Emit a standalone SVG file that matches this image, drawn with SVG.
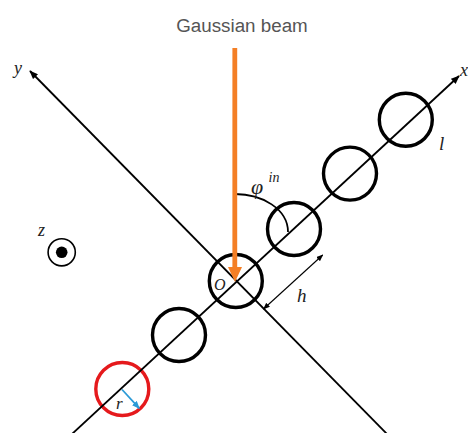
<svg xmlns="http://www.w3.org/2000/svg" width="468" height="433" viewBox="0 0 468 433">
  <style>
    .axis { stroke: #000; stroke-width: 1.8; fill: none; }
    .ring { stroke: #000; stroke-width: 3.4; fill: none; }
    .red { stroke: #e5191c; }
    .lab { font-family: "Liberation Serif", "DejaVu Serif", serif; font-style: italic; fill: #222; }
    .title { font-family: "Liberation Sans", Arial, sans-serif; font-size: 18.8px; fill: #555; }
  </style>
  <defs>
    <marker id="ah" viewBox="0 0 10 8" refX="9" refY="4" markerWidth="9" markerHeight="7" markerUnits="userSpaceOnUse" orient="auto-start-reverse">
      <path d="M0,0 L10,4 L0,8 Z" fill="#000"/>
    </marker>
    <marker id="ahs" viewBox="0 0 10 8" refX="9" refY="4" markerWidth="7" markerHeight="5.5" markerUnits="userSpaceOnUse" orient="auto-start-reverse">
      <path d="M0,0 L10,4 L0,8 Z" fill="#000"/>
    </marker>
    <marker id="ahb" viewBox="0 0 10 8" refX="9" refY="4" markerWidth="8" markerHeight="6.5" markerUnits="userSpaceOnUse" orient="auto">
      <path d="M0,0 L10,4 L0,8 Z" fill="#2b9ad6"/>
    </marker>
  </defs>

  <text class="title" x="242" y="31.7" text-anchor="middle">Gaussian beam</text>

  <g id="particles">
    <g id="p-red"><circle class="ring red" cx="122.3" cy="389" r="26.5"/></g>
    <g id="p1"><circle class="ring" cx="179" cy="335" r="26.5"/></g>
    <g id="p-origin"><circle class="ring" cx="235.8" cy="281" r="26.5"/></g>
    <g id="p2"><circle class="ring" cx="294" cy="229" r="26.5"/></g>
    <g id="p3"><circle class="ring" cx="350" cy="173.6" r="26.5"/></g>
    <g id="p4"><circle class="ring" cx="405.8" cy="119.8" r="26.5"/></g>
  </g>

  <g id="z-symbol">
    <circle cx="61.7" cy="252.3" r="13.6" fill="none" stroke="#000" stroke-width="1.6"/>
    <circle cx="61.7" cy="252.3" r="5.8" fill="#000"/>
  </g>

  <g id="connectors">
    <line id="x-axis" class="axis" x1="72" y1="434" x2="459" y2="76" marker-end="url(#ah)"/>
    <line id="y-axis" class="axis" x1="387" y1="434" x2="30" y2="71" marker-end="url(#ah)"/>
    <path id="phi-arc" class="axis" d="M235,194 C262,194 288,209 288,232"/>
    <line id="h-arrow" x1="263.5" y1="309" x2="322.7" y2="255" stroke="#000" stroke-width="1.1" marker-start="url(#ahs)" marker-end="url(#ahs)"/>
    <line id="r-arrow" x1="122" y1="389.5" x2="139.3" y2="408.3" stroke="#2b9ad6" stroke-width="1.8" marker-end="url(#ahb)"/>
    <g id="beam">
      <line x1="234.8" y1="48" x2="234.8" y2="268" stroke="#f47f25" stroke-width="4.8"/>
      <polygon points="228,267 242,267 235,282" fill="#f47f25"/>
    </g>
  </g>

  <g id="labels">
    <text class="lab" x="14" y="74" font-size="18">y</text>
    <text class="lab" x="460" y="76" font-size="18">x</text>
    <text class="lab" x="38" y="236" font-size="18">z</text>
    <text class="lab" x="214" y="290" font-size="16">O</text>
    <text class="lab" x="251" y="194" font-size="22">φ</text>
    <text class="lab" x="268.5" y="181.5" font-size="14">in</text>
    <text class="lab" x="439" y="150" font-size="19">l</text>
    <text class="lab" x="297" y="301.5" font-size="19">h</text>
    <text class="lab" x="116" y="408.5" font-size="17">r</text>
  </g>
</svg>
